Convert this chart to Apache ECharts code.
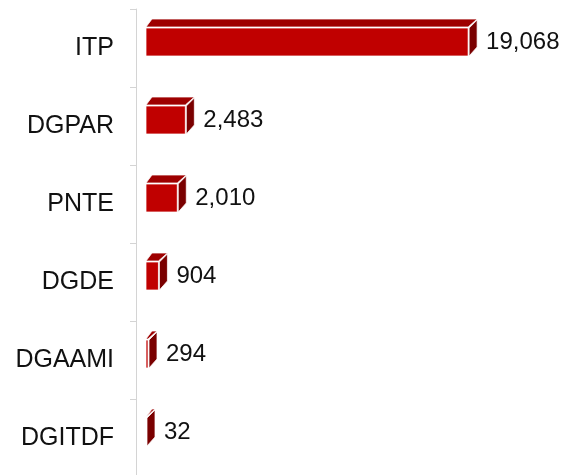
<!DOCTYPE html>
<html>
<head>
<meta charset="utf-8">
<script src="https://cdn.jsdelivr.net/npm/echarts@6/dist/echarts.min.js"></script>
<style>
  html, body { margin: 0; padding: 0; background: #fff; overflow: hidden; }
  #chart { width: 572px; height: 477px; }
</style>
</head>
<body>
<div id="chart"></div>
<script>
const categories = ['ITP', 'DGPAR', 'PNTE', 'DGDE', 'DGAAMI', 'DGITDF']
const values = [19068, 2483, 2010, 904, 294, 32]

const chart = echarts.init(document.getElementById('chart'))

// 3D box: front face, top face, side face, then the value label
function renderBox(params, api) {
  const end = api.coord([api.value(0), api.value(1)])
  const base = api.coord([0, api.value(1)])
  const x0 = base[0] + 3
  const x1 = Math.max(end[0], x0)
  const cy = end[1]
  const top = cy - 20
  const bot = cy + 8
  const dx = 9, dy = 9
  const edge = 'rgba(255,255,255,0.75)'
  return {
    type: 'group',
    children: [
      {
        type: 'rect',
        shape: { x: x0, y: top, width: x1 - x0, height: bot - top },
        style: { fill: '#c00000', stroke: edge, lineWidth: 1 }
      },
      {
        type: 'polygon',
        shape: { points: [[x0, top - 1], [x1, top - 1], [x1 + dx, top - dy], [x0 + 6, top - dy]] },
        style: { fill: '#9e0000', stroke: edge, lineWidth: 1 }
      },
      {
        type: 'polygon',
        shape: { points: [[x1 + 1, top], [x1 + dx, top - dy + 1], [x1 + dx, bot - dy], [x1 + 1, bot]] },
        style: { fill: '#7a0000', stroke: edge, lineWidth: 1 }
      },
      {
        type: 'text',
        style: {
          x: x1 + dx + 9,
          y: cy - 6,
          text: api.value(0).toLocaleString('en-US'),
          fill: '#111',
          font: '24px "Liberation Sans", Arial, sans-serif',
          verticalAlign: 'middle',
          align: 'left'
        }
      }
    ]
  }
}

chart.setOption({
  animation: false,
  grid: { left: 143, right: 88, top: 9, bottom: 0 },
  xAxis: {
    type: 'value',
    min: 0,
    max: 20000,
    show: false,
    splitLine: { show: false }
  },
  yAxis: {
    type: 'category',
    data: categories,
    inverse: true,
    offset: 7,
    axisLine: { show: true, onZero: false, lineStyle: { color: '#d4d4d4', width: 1 } },
    axisTick: { show: true, length: 6, lineStyle: { color: '#d4d4d4' } },
    axisLabel: {
      margin: 22,
      color: '#111',
      fontSize: 25,
      fontFamily: '"Liberation Sans", Arial, sans-serif'
    }
  },
  series: [
    {
      type: 'custom',
      renderItem: renderBox,
      encode: { x: 0, y: 1 },
      data: values.map((v, i) => [v, i])
    }
  ]
})
</script>
</body>
</html>
